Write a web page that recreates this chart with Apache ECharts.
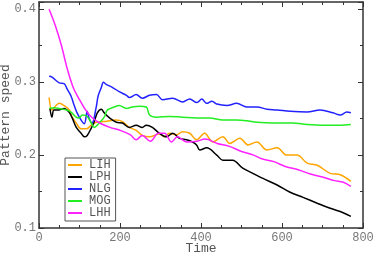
<!DOCTYPE html>
<html><head><meta charset="utf-8">
<script src="https://cdn.jsdelivr.net/npm/echarts@6/dist/echarts.min.js"></script>
<style>html,body{margin:0;padding:0;background:#fff}#c{width:374px;height:253px}</style>
</head><body><div id="c"></div>
<script>
var seriesNames = ['LIH', 'LPH', 'NLG', 'MOG', 'LHH'];
var seriesColors = ['#ffa500', '#000000', '#2222ff', '#22ee22', '#ff22ff'];
var xTicks = [0, 200, 400, 600, 800];
var yTicks = [0.1, 0.2, 0.3, 0.4];

var lihX = [25, 32, 42, 50, 62, 75, 82, 92, 104, 117, 129, 142, 160, 190, 206, 223, 240, 255, 273, 297, 310, 322, 340, 354, 372, 389, 409, 429, 454, 471, 496, 516, 538, 563, 588, 612, 637, 662, 687, 719, 744, 770];
var lihY = [0.279, 0.262, 0.268, 0.271, 0.268, 0.262, 0.252, 0.244, 0.236, 0.236, 0.241, 0.245, 0.246, 0.248, 0.246, 0.238, 0.234, 0.227, 0.225, 0.229, 0.225, 0.230, 0.228, 0.232, 0.230, 0.221, 0.230, 0.218, 0.225, 0.216, 0.223, 0.214, 0.218, 0.207, 0.210, 0.200, 0.200, 0.189, 0.186, 0.175, 0.173, 0.164];

var lphX = [27, 32, 37, 50, 62, 74, 82, 92, 104, 112, 119, 129, 136, 144, 154, 161, 174, 191, 206, 223, 240, 255, 265, 280, 297, 315, 330, 347, 364, 379, 389, 397, 414, 439, 454, 478, 503, 528, 553, 588, 620, 652, 687, 719, 751, 770];
var lphY = [0.264, 0.252, 0.262, 0.262, 0.264, 0.259, 0.251, 0.238, 0.230, 0.225, 0.227, 0.237, 0.245, 0.258, 0.263, 0.258, 0.251, 0.245, 0.244, 0.238, 0.241, 0.238, 0.241, 0.238, 0.230, 0.225, 0.230, 0.223, 0.221, 0.218, 0.214, 0.207, 0.210, 0.200, 0.193, 0.193, 0.182, 0.175, 0.168, 0.159, 0.149, 0.142, 0.134, 0.127, 0.121, 0.116];

var nlgX = [25, 32, 50, 62, 70, 79, 87, 94, 104, 112, 119, 124, 131, 141, 146, 154, 159, 166, 181, 198, 216, 223, 240, 255, 273, 290, 305, 330, 355, 372, 390, 402, 414, 427, 439, 464, 488, 513, 538, 563, 588, 620, 662, 694, 726, 744, 760, 770];
var nlgY = [0.308, 0.307, 0.299, 0.298, 0.290, 0.281, 0.268, 0.258, 0.248, 0.243, 0.260, 0.250, 0.244, 0.265, 0.281, 0.293, 0.300, 0.297, 0.293, 0.287, 0.282, 0.279, 0.283, 0.278, 0.282, 0.283, 0.276, 0.278, 0.273, 0.277, 0.272, 0.277, 0.271, 0.274, 0.270, 0.268, 0.271, 0.266, 0.266, 0.263, 0.262, 0.260, 0.259, 0.262, 0.258, 0.255, 0.259, 0.258];

var mogX = [25, 37, 50, 67, 79, 92, 99, 107, 119, 129, 136, 149, 161, 169, 186, 198, 216, 230, 248, 265, 273, 290, 322, 354, 390, 421, 454, 488, 513, 538, 580, 625, 662, 702, 744, 770];
var mogY = [0.264, 0.265, 0.264, 0.262, 0.259, 0.252, 0.251, 0.255, 0.253, 0.244, 0.238, 0.244, 0.252, 0.262, 0.266, 0.268, 0.264, 0.266, 0.267, 0.266, 0.255, 0.252, 0.253, 0.252, 0.251, 0.251, 0.248, 0.248, 0.247, 0.245, 0.244, 0.244, 0.242, 0.241, 0.241, 0.242];

var lhhX = [25, 40, 55, 70, 85, 100, 115, 130, 150, 175, 200, 225, 240, 255, 275, 295, 310, 327, 342, 365, 390, 410, 440, 470, 500, 530, 550, 580, 610, 640, 670, 700, 730, 750, 770];
var lhhY = [0.400, 0.378, 0.351, 0.318, 0.292, 0.276, 0.262, 0.252, 0.244, 0.238, 0.234, 0.228, 0.221, 0.227, 0.219, 0.230, 0.230, 0.218, 0.225, 0.218, 0.219, 0.222, 0.216, 0.212, 0.205, 0.200, 0.195, 0.191, 0.184, 0.180, 0.174, 0.170, 0.165, 0.163, 0.157];

var xs = [lihX, lphX, nlgX, mogX, lhhX];
var ys = [lihY, lphY, nlgY, mogY, lhhY];

var FONT = 'Liberation Mono';
var axisCol = '#333';
var labelCol = '#777';

function zip(a, b) { return a.map(function (v, i) { return [v, b[i]]; }); }

var series = seriesNames.map(function (n, i) {
  return {
    name: n, type: 'line', data: zip(xs[i], ys[i]), showSymbol: false, symbol: 'none',
    smooth: 0.35, lineStyle: { color: seriesColors[i], width: 1.5 }, itemStyle: { color: seriesColors[i] },
    xAxisIndex: 0, yAxisIndex: 0, animation: false
  };
});

function baseX(pos, show) {
  return {
    type: 'value', position: pos, min: 0, max: 800, interval: 200,
    axisLine: { show: true, onZero: false, lineStyle: { color: axisCol, width: 1.5 } },
    axisTick: { show: true, inside: true, length: 5, lineStyle: { color: axisCol, width: 1 } },
    minorTick: { show: true, splitNumber: 4, length: 3, lineStyle: { color: axisCol, width: 1 } },
    splitLine: { show: false },
    axisLabel: { show: show, color: labelCol, fontFamily: FONT, fontSize: 12, margin: 4 },
    name: show ? 'Time' : '', nameLocation: 'middle', nameGap: 14, nameMoveOverlap: false,
    nameTextStyle: { color: '#555', fontFamily: FONT, fontSize: 13 }
  };
}
function baseY(pos, show) {
  return {
    type: 'value', position: pos, min: 0.1, max: 0.41, interval: 0.1,
    axisLine: { show: true, onZero: false, lineStyle: { color: axisCol, width: 1.5 } },
    axisTick: { show: true, inside: true, length: 5, lineStyle: { color: axisCol, width: 1 } },
    minorTick: { show: true, splitNumber: 2, length: 3, lineStyle: { color: axisCol, width: 1 } },
    splitLine: { show: false },
    axisLabel: { show: show, color: labelCol, fontFamily: FONT, fontSize: 12, margin: 3, showMaxLabel: false,
      formatter: function (v) { return yTicks.some(function (t) { return Math.abs(t - v) < 1e-6; }) ? v.toFixed(1) : ''; } },
    name: show ? 'Pattern speed' : '', nameLocation: 'middle', nameGap: 27, nameRotate: 90, nameMoveOverlap: false,
    nameTextStyle: { color: '#555', fontFamily: FONT, fontSize: 13 }
  };
}

var chart = echarts.init(document.getElementById('c'), null, { renderer: 'canvas' });
chart.setOption({
  animation: false,
  backgroundColor: '#fff',
  grid: { left: 39, right: 11, top: 2, bottom: 25, containLabel: false, outerBoundsMode: 'none' },
  xAxis: [baseX('bottom', true), baseX('top', false)],
  yAxis: [baseY('left', true), baseY('right', false)],
  legend: {
    orient: 'vertical', left: 65, top: 158, data: seriesNames,
    itemWidth: 14, itemHeight: 11.5, itemGap: 0,
    padding: [1, 5, 2, 3], borderColor: '#555', borderWidth: 1,
    textStyle: { color: '#555', fontFamily: FONT, fontSize: 12, padding: [0, 0, 0, 2], lineHeight: 11.5 },
    icon: 'path://M0,5 L14,5 L14,7 L0,7 Z'
  },
  series: series
});
</script></body></html>
